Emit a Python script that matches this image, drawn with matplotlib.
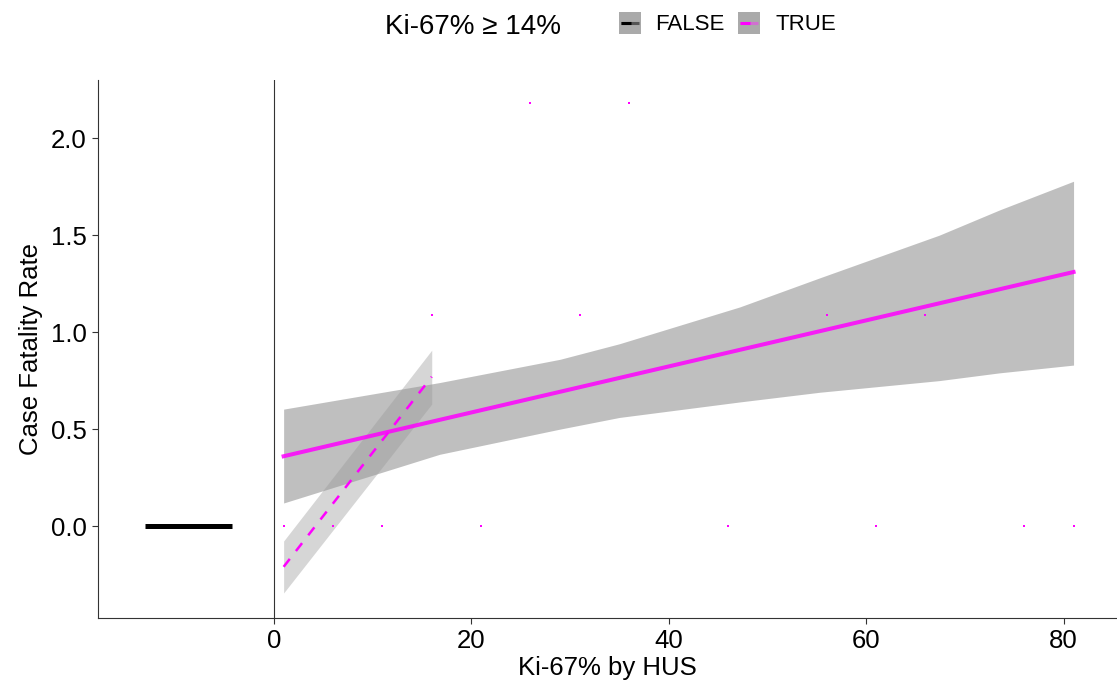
import matplotlib
matplotlib.use("Agg")
import matplotlib.pyplot as plt
from matplotlib.patches import Rectangle
from matplotlib.lines import Line2D

plt.rcParams['font.family'] = ['Liberation Sans', 'DejaVu Sans']

W, H = 1117, 693

# Observed points (TRUE group)
pt_x = [1, 6, 11, 21, 46, 61, 76, 81, 26, 36, 16, 31, 56, 66]
pt_y = [0, 0, 0, 0, 0, 0, 0, 0, 2.18, 2.18, 1.09, 1.09, 1.09, 1.09]

# Main linear fit (solid) and its confidence band
fit_x = [1, 81]
fit_y = [0.36, 1.31]
band_x = [1, 16.8, 29, 35, 47.2, 55.3, 67.4, 73.5, 81]
band_lo = [0.119, 0.37, 0.50, 0.56, 0.64, 0.69, 0.75, 0.79, 0.83]
band_hi = [0.603, 0.74, 0.86, 0.94, 1.13, 1.28, 1.50, 1.63, 1.778]

# Subgroup fit (dashed) and its band
sub_x = [1, 16]
sub_y = [-0.21, 0.77]
sub_lo = [-0.345, 0.629]
sub_hi = [-0.077, 0.907]

# FALSE group line
false_x = [-13, -4.2]
false_y = [0, 0]

legend_title = "Ki-67% \u2265 14%"
legend_labels = ["FALSE", "TRUE"]
legend_colors = ["black", "#FF00FF"]
legend_tail = ["#555555", "#d070d0"]

fig = plt.figure(figsize=(W / 100, H / 100), dpi=100)
ax = fig.add_axes([98 / W, 75 / H, 1 - 98 / W, 538 / H])

ax.fill_between(band_x, band_lo, band_hi, color='#999999', alpha=0.62, linewidth=0, zorder=1)
ax.fill_between(sub_x, sub_lo, sub_hi, color='#999999', alpha=0.4, linewidth=0, zorder=2)
ax.axvline(0, color='#333333', linewidth=0.8, zorder=2)
ax.plot(false_x, false_y, color='black', linewidth=3.6, solid_capstyle='butt', zorder=3)
ax.plot(fit_x, fit_y, color='#FF00FF', alpha=0.85, linewidth=2.9, zorder=4)
ax.plot(sub_x, sub_y, color='#FF00FF', linewidth=1.8, dashes=(4, 4), zorder=4)
ax.scatter(pt_x, pt_y, color='#FF00FF', s=2, marker='s', linewidths=0, zorder=5)

ax.set_xlim(-17.8, 85.4)
ax.set_ylim(-0.474, 2.30)
ax.set_xticks([0, 20, 40, 60, 80])
ax.set_yticks([0.0, 0.5, 1.0, 1.5, 2.0])
ax.set_yticklabels(["0.0", "0.5", "1.0", "1.5", "2.0"])
ax.tick_params(labelsize=18.5, colors='#333333', labelcolor='black', length=4, width=0.8, pad=4)
for s in ['top', 'right']:
    ax.spines[s].set_visible(False)
for s in ['left', 'bottom']:
    ax.spines[s].set_color('#333333')
    ax.spines[s].set_linewidth(0.8)
ax.set_xlabel("Ki-67% by HUS", fontsize=18.5, labelpad=2)
ax.set_ylabel("Case Fatality Rate", fontsize=18.5, labelpad=6)

# Legend (drawn manually, ggplot-style title on the left)
fig.text(473 / W, 1 - 27 / H, legend_title, fontsize=20, ha='center', va='center')
key_left = [619, 738]
label_left = [655, 776]
for kx, lx, lab, c, tc in zip(key_left, label_left, legend_labels, legend_colors, legend_tail):
    fig.add_artist(Rectangle((kx / W, 1 - 34 / H), 22 / W, 22 / H,
                             transform=fig.transFigure, facecolor='#aaaaaa',
                             edgecolor='none'))
    yk = 1 - 23 / H
    fig.add_artist(Line2D([(kx + 2) / W, (kx + 20) / W], [yk, yk],
                          transform=fig.transFigure, color=tc, linewidth=2.2,
                          solid_capstyle='butt'))
    fig.add_artist(Line2D([(kx + 2) / W, (kx + 12) / W], [yk, yk],
                          transform=fig.transFigure, color=c, linewidth=2.2,
                          solid_capstyle='butt'))
    fig.text(lx / W, 1 - 24 / H, lab, fontsize=16, ha='left', va='center')

fig.savefig("out.png", dpi=100)
